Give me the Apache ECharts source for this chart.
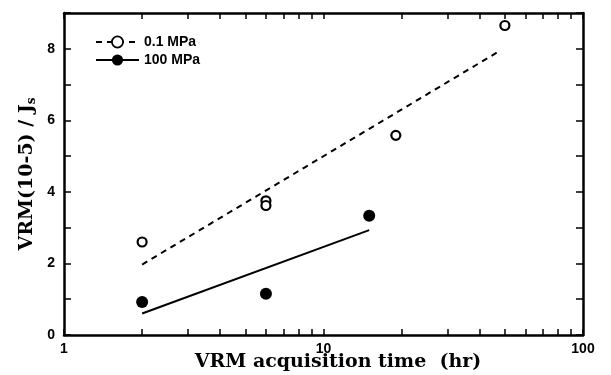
<!DOCTYPE html>
<html><head><meta charset="utf-8">
<script src="https://cdn.jsdelivr.net/npm/echarts@6/dist/echarts.min.js"></script>
<style>html,body{margin:0;padding:0;background:#fff}#c{width:611px;height:375px}</style>
</head><body><div id="c"></div>
<script>
const timeOpen = [2, 6, 6, 19, 50];
const vrmOpen = [2.6, 3.75, 3.62, 5.58, 8.65];
const timeFilled = [2, 6, 15];
const vrmFilled = [0.92, 1.15, 3.33];
const fitOpenT = [2, 48];
const fitOpenV = [1.97, 7.95];
const fitFilledT = [2, 15];
const fitFilledV = [0.6, 2.93];
const xTickValues = [1,2,3,4,5,6,7,8,9,10,20,30,40,50,60,70,80,90,100];
const xLabelValues = [1, 10, 100];
const yLabelValues = [0, 2, 4, 6, 8];

const zip = (a, b) => a.map((v, i) => [v, b[i]]);
const axisLineStyle = {color: '#000', width: 2.5};
const labelFont = {fontFamily: 'Liberation Sans', fontWeight: 'bold', fontSize: 14, color: '#000'};
const titleFont = {fontFamily: 'DejaVu Serif', fontWeight: 'bold', fontSize: 19, color: '#000'};

const xBase = {
  type: 'log', logBase: 10, min: 1, max: 100,
  axisLine: {show: true, onZero: false, lineStyle: axisLineStyle},
  axisTick: {show: true, inside: true, length: 6, lineStyle: {color: '#000', width: 1.5}, customValues: xTickValues},
  splitLine: {show: false}, minorTick: {show: false}
};
const yBase = {
  type: 'value', min: 0, max: 9, interval: 1,
  axisLine: {show: true, onZero: false, lineStyle: axisLineStyle},
  axisTick: {show: true, inside: true, length: 7, lineStyle: {color: '#000', width: 1.5}},
  splitLine: {show: false}
};

const option = {
  animation: false,
  grid: {left: 64, right: 28, top: 13, bottom: 40, outerBoundsMode: 'none', containLabel: false},
  legend: {
    left: 90, top: 30, orient: 'vertical', itemGap: 4, itemWidth: 43, itemHeight: 14,
    textStyle: {fontFamily: 'Liberation Sans', fontWeight: 'bold', fontSize: 14, color: '#000'},
    data: [
      {name: '0.1 MPa', itemStyle: {color: '#fff', borderColor: '#000', borderWidth: 1.8}},
      {name: '100 MPa'}
    ]
  },
  xAxis: [
    Object.assign({}, xBase, {
      position: 'bottom',
      axisLabel: Object.assign({show: true, margin: 7, customValues: xLabelValues}, labelFont),
      name: 'VRM acquisition time  (hr)', nameLocation: 'middle', nameGap: 18, nameMoveOverlap: false,
      nameTextStyle: Object.assign({padding: [0, 0, 0, 29]}, titleFont)
    }),
    Object.assign({}, xBase, {position: 'top', axisLabel: {show: false}})
  ],
  yAxis: [
    Object.assign({}, yBase, {
      position: 'left',
      axisLabel: Object.assign({show: true, margin: 9, customValues: yLabelValues}, labelFont),
      name: '{a|VRM(10-5) / J}{s|s}', nameLocation: 'middle', nameGap: 26, nameMoveOverlap: false,
      nameTextStyle: Object.assign({rich: {a: titleFont, s: Object.assign({}, titleFont, {fontSize: 12, padding: [10, 0, 0, 0]})}}, titleFont)
    }),
    Object.assign({}, yBase, {position: 'right', axisLabel: {show: false}})
  ],
  series: [
    {
      name: '0.1 MPa', type: 'line', data: zip(fitOpenT, fitOpenV),
      showSymbol: false, symbol: 'circle', symbolSize: 9,
      lineStyle: {color: '#000', width: 2, type: [6, 5]},
      itemStyle: {color: '#fff', borderColor: '#000', borderWidth: 2}
    },
    {
      name: '100 MPa', type: 'line', data: zip(fitFilledT, fitFilledV),
      showSymbol: false, symbol: 'circle', symbolSize: 11,
      lineStyle: {color: '#000', width: 2},
      itemStyle: {color: '#000'}
    },
    {
      name: 'open', type: 'scatter', data: zip(timeOpen, vrmOpen),
      symbol: 'circle', symbolSize: 9,
      itemStyle: {color: '#fff', borderColor: '#000', borderWidth: 2.2, opacity: 1}
    },
    {
      name: 'filled', type: 'scatter', data: zip(timeFilled, vrmFilled),
      symbol: 'circle', symbolSize: 12,
      itemStyle: {color: '#000', opacity: 1}
    }
  ]
};
const chart = echarts.init(document.getElementById('c'));
chart.setOption(option);
</script>
</body></html>
